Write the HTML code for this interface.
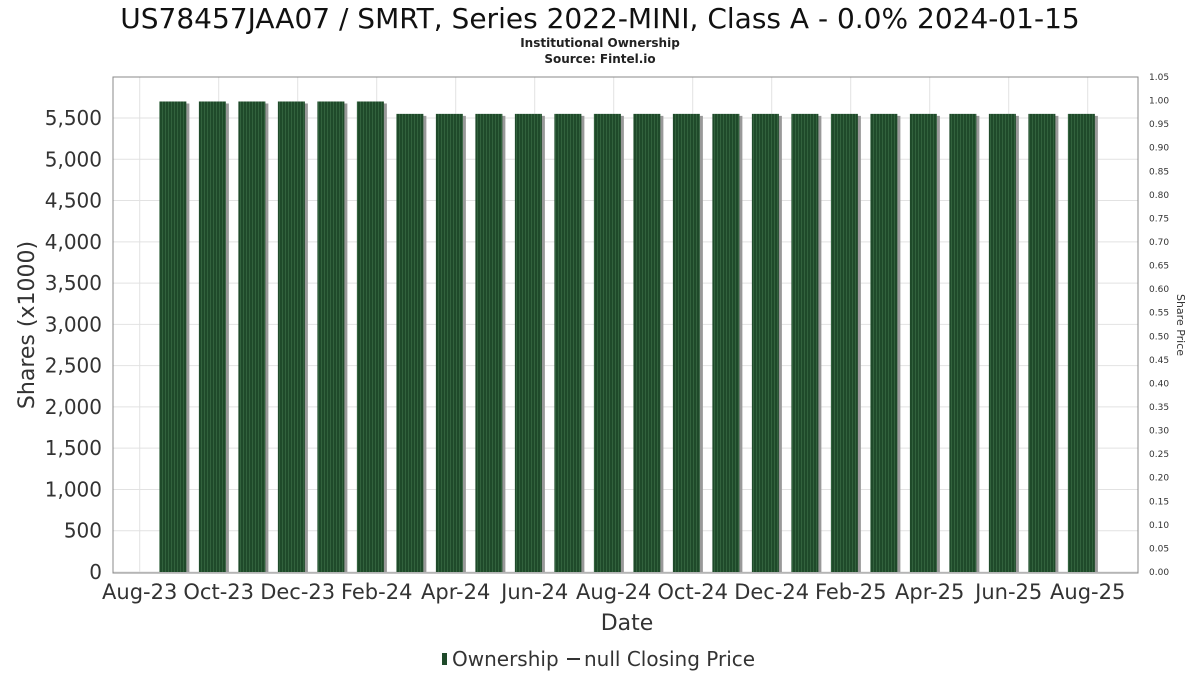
<!DOCTYPE html>
<html><head><meta charset="utf-8"><style>
body{margin:0;background:#fff;font-family:"DejaVu Sans","Liberation Sans",sans-serif;}
svg text{font-family:"DejaVu Sans","Liberation Sans",sans-serif;}
</style></head><body>
<svg id="c" width="1200" height="675" xmlns="http://www.w3.org/2000/svg">
<defs>
<pattern id="stripe" width="3" height="10" patternUnits="userSpaceOnUse">
<rect width="3" height="10" fill="#1f4a2a"/><rect width="1" height="10" fill="#32623d"/>
</pattern>
</defs>
<text x="600" y="28" text-anchor="middle" font-size="28" fill="#111">US78457JAA07 / SMRT, Series 2022-MINI, Class A - 0.0% 2024-01-15</text>
<text x="600" y="47" text-anchor="middle" font-size="12" font-weight="bold" fill="#222">Institutional Ownership</text>
<text x="600" y="63" text-anchor="middle" font-size="12" font-weight="bold" fill="#222">Source: Fintel.io</text>
<g id="grid"></g>
<g id="bars"></g>
<rect x="113" y="77" width="1025" height="496" fill="none" stroke="#888"/>
<g id="axes"></g>
<text x="627" y="630" text-anchor="middle" font-size="22" fill="#333">Date</text>
<text transform="translate(34,325) rotate(-90)" text-anchor="middle" font-size="22" fill="#333">Shares (x1000)</text>
<text transform="translate(1177,325) rotate(90)" text-anchor="middle" font-size="11" fill="#333">Share Price</text>
<g>
<rect x="442" y="653" width="5" height="12" fill="#1f4a2a"/>
<text x="452" y="666" font-size="20" fill="#333">Ownership</text>
<line x1="567" y1="659" x2="580" y2="659" stroke="#333" stroke-width="2"/>
<text x="584" y="666" font-size="20" fill="#333">null Closing Price</text>
</g>
</svg>
<script>
const barDates=["Sep-23","Oct-23","Nov-23","Dec-23","Jan-24","Feb-24","Mar-24","Apr-24","May-24","Jun-24","Jul-24","Aug-24","Sep-24","Oct-24","Nov-24","Dec-24","Jan-25","Feb-25","Mar-25","Apr-25","May-25","Jun-25","Jul-25","Aug-25"];
const shares=[5700,5700,5700,5700,5700,5700,5550,5550,5550,5550,5550,5550,5550,5550,5550,5550,5550,5550,5550,5550,5550,5550,5550,5550];
const xTickLabels=["Aug-23","Oct-23","Dec-23","Feb-24","Apr-24","Jun-24","Aug-24","Oct-24","Dec-24","Feb-25","Apr-25","Jun-25","Aug-25"];
const yTicks=[0,500,1000,1500,2000,2500,3000,3500,4000,4500,5000,5500];
const y2Ticks=[0,0.05,0.10,0.15,0.20,0.25,0.30,0.35,0.40,0.45,0.50,0.55,0.60,0.65,0.70,0.75,0.80,0.85,0.90,0.95,1.00,1.05];
const NS="http://www.w3.org/2000/svg";
const x=m=>139.7+m*39.5;
const y=v=>572-v*(454/5500);
const y2=v=>572-v*(495/1.05);
function mk(t,a,p){const e=document.createElementNS(NS,t);for(const k in a)e.setAttribute(k,a[k]);p.appendChild(e);return e;}
const grid=document.getElementById('grid'),bars=document.getElementById('bars'),axes=document.getElementById('axes');
yTicks.forEach(v=>{
  const l=mk('line',{x1:113,x2:1138,y1:y(v),y2:y(v),stroke:'#e2e2e2'},grid);
  
  
  const t=mk('text',{x:102,y:y(v)+7,'text-anchor':'end','font-size':20,fill:'#333'},axes);
  t.textContent=v.toLocaleString('en-US');
  
  
});
xTickLabels.forEach((s,i)=>{
  const l=mk('line',{x1:x(i*2),x2:x(i*2),y1:77,y2:573,stroke:'#e2e2e2'},grid);
  
  
  const t=mk('text',{x:x(i*2),y:599,'text-anchor':'middle','font-size':21,fill:'#333'},axes);
  t.textContent=s;
  
  
});
y2Ticks.forEach(v=>{
  const t=mk('text',{x:1149,y:y2(v)+3,'font-size':9,fill:'#333'},axes);
  t.textContent=v.toFixed(2);
  
  
});
shares.forEach((v,i)=>{
  const cx=x(i+0.84),w=27;
  const s=mk('rect',{x:cx-w/2+3,y:y(v)+2,width:w,height:572-y(v)-2,fill:'#999'},bars);
  
  
  const b=mk('rect',{x:cx-w/2,y:y(v),width:w,height:572-y(v),fill:'url(#stripe)'},bars);
  
  
});
</script>
</body></html>
